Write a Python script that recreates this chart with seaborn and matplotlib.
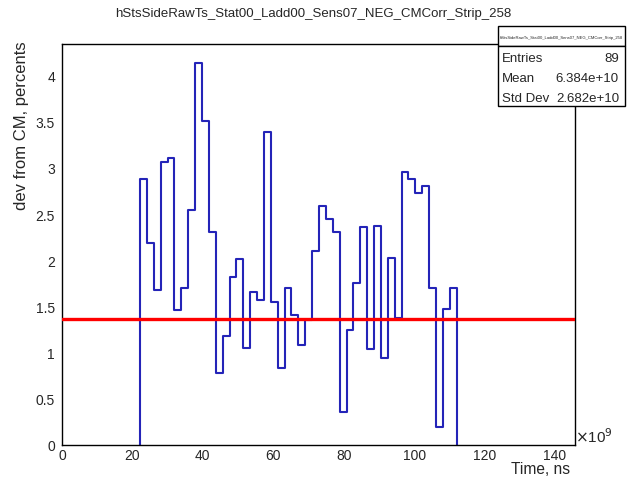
import numpy as np
import pandas as pd
import matplotlib
matplotlib.use("Agg")
import matplotlib.pyplot as plt
import matplotlib.patches as mpatches
from matplotlib.ticker import MultipleLocator
import seaborn as sns

# ---- data ----
hist_name = "hStsSideRawTs_Stat00_Ladd00_Sens07_NEG_CMCorr_Strip_258"
bin_low = 22.16          # first bin low edge, x 1e9 ns
bin_width = 1.955        # bin width, x 1e9 ns
bin_values = [2.88, 2.19, 1.68, 3.06, 3.11, 1.46, 1.70, 2.54, 4.13, 3.51,
              2.31, 0.78, 1.18, 1.82, 2.01, 1.05, 1.66, 1.57, 3.39, 1.55,
              0.83, 1.70, 1.41, 1.08, 1.35, 2.10, 2.59, 2.45, 2.30, 0.36,
              1.24, 1.75, 2.36, 1.04, 2.37, 0.94, 2.02, 1.37, 2.95, 2.88,
              2.73, 2.80, 1.70, 0.19, 1.47, 1.70]
threshold = 1.36
stats_labels = ["Entries", "Mean", "Std Dev"]
stats_values = ["89", "6.384e+10", "2.682e+10"]
x_label = "Time, ns"
y_label = "dev from CM, percents"

# ---- build step outline from bins ----
edges = bin_low + bin_width * np.arange(len(bin_values) + 1)
xs = np.concatenate([[edges[0]], edges])
ys = np.concatenate([[0.0], bin_values, [0.0]])
df = pd.DataFrame({"x": xs, "y": ys})

sns.set_style("white")
plt.rcParams["font.family"] = ["Liberation Sans", "DejaVu Sans"]

W, H = 627, 485
fig = plt.figure(figsize=(W / 100, H / 100), dpi=100)
L, R, B, T = 62, 575, 446, 45
ax = fig.add_axes([L / W, 1 - B / H, (R - L) / W, (B - T) / H])

sns.lineplot(data=df, x="x", y="y", ax=ax, drawstyle="steps-post",
             estimator=None, sort=False, color="#2424b8", linewidth=1.5)
ax.axhline(threshold, color="#ff0000", linewidth=2.4, zorder=5)

ax.set_xlim(0, 145.7)
ax.set_ylim(0, 4.34)
ax.xaxis.set_minor_locator(MultipleLocator(5))
ax.yaxis.set_minor_locator(MultipleLocator(0.1))
ax.set_xticks(np.arange(0, 141, 20))
ax.set_xticklabels([f"{v:g}" for v in np.arange(0, 141, 20)])
ax.set_yticks(np.arange(0, 4.01, 0.5))
ax.set_yticklabels([f"{v:g}" for v in np.arange(0, 4.01, 0.5)])
ax.tick_params(which="major", direction="in", length=8.5, width=1.0,
               labelsize=10, pad=2, top=False, right=False, color="black")
ax.tick_params(which="minor", direction="in", length=4.3, width=1.0,
               top=False, right=False, color="black")
ax.tick_params(axis="y", which="major", pad=5)
for s in ax.spines.values():
    s.set_color("black")
    s.set_linewidth(1.0)

ax.set_xlabel("")
ax.set_ylabel("")
fig.text(570 / W, 1 - 470 / H, x_label, ha="right", va="center", fontsize=11.2)
fig.text(22 / W, 1 - 41 / H, y_label, ha="center", va="top", rotation=90,
         fontsize=12)
fig.text(575 / W, 1 - 437 / H, r"$\times$10$^{9}$", ha="left", va="center",
         fontsize=11)

# title
fig.text(313 / W, 1 - 14 / H, hist_name, ha="center", va="center", fontsize=9.5)

# stats box
bx0, bx1, by0, bym, by1 = 498, 625, 27, 47, 107
fig.patches.append(mpatches.Rectangle((bx0 / W, 1 - bym / H), (bx1 - bx0) / W,
                                      (bym - by0) / H, transform=fig.transFigure,
                                      facecolor="white", edgecolor="black",
                                      linewidth=1.0, zorder=10))
fig.patches.append(mpatches.Rectangle((bx0 / W, 1 - by1 / H), (bx1 - bx0) / W,
                                      (by1 - bym) / H, transform=fig.transFigure,
                                      facecolor="white", edgecolor="black",
                                      linewidth=1.0, zorder=10))
fig.text((bx0 + bx1) / 2 / W, 1 - 38 / H, hist_name, ha="center", va="center",
         fontsize=3.0, zorder=11)
for i, (lab, val) in enumerate(zip(stats_labels, stats_values)):
    yy = 1 - (58.5 + 20.5 * i) / H
    fig.text(502 / W, yy, lab, ha="left", va="center", fontsize=9.5, zorder=11)
    fig.text(619 / W, yy, val, ha="right", va="center", fontsize=9.5, zorder=11)

fig.savefig("out.png", dpi=100)
